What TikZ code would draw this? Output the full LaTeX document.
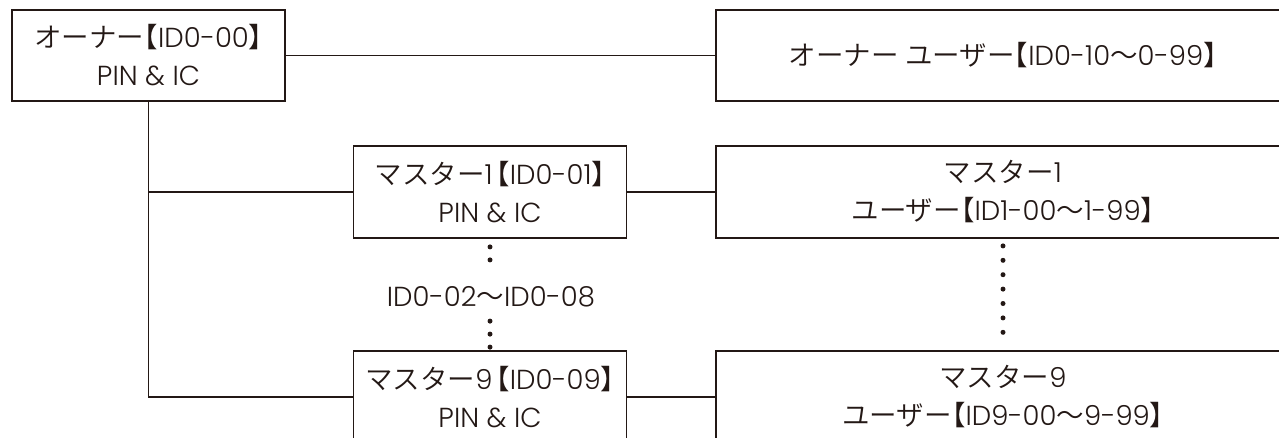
\documentclass[tikz,border=0pt]{standalone}
\usepackage{fontspec}
\setmainfont{Noto Sans CJK JP}[UprightFont=* DemiLight]
\newfontfamily\brk{Noto Sans CJK JP}[UprightFont=* DemiLight, RawFeature=+halt]
\newfontfamily\latf{Poppins}[UprightFont=* Light]
\newcommand\lt[1]{{\latf #1}}
\newcommand\lbk{{\brk 【}}
\newcommand\rbk{{\brk 】}}
\definecolor{ink}{HTML}{231815}
\begin{document}
\begin{tikzpicture}[x=1pt,y=-1pt,
 box/.style={draw=ink, line width=1.8pt, rectangle, inner sep=0pt, align=center, text=ink, font=\fontsize{27.5}{38}\selectfont},
 leftbox/.style={box, minimum width=273pt, minimum height=92pt},
 rightbox/.style={box, minimum width=574pt, minimum height=92pt},
 conn/.style={draw=ink, line width=1.8pt},
 dotline/.style={draw=ink, line width=5pt, line cap=round, dash pattern=on 0pt off 13pt},
 lbl/.style={inner sep=0pt, text=ink, font=\fontsize{27.5}{38}\selectfont}]
\useasboundingbox (0,0) rectangle (1279,437);
\clip (0,0) rectangle (1279,437);
\node[leftbox, minimum height=91pt] (owner) at (148.5,55.5) {オーナー\lbk\lt{ID0-00}\rbk\\\lt{PIN \& IC}};
\node[rightbox, minimum height=91pt] (ou) at (1003,55.5) {オーナー ユーザー\lbk\lt{ID0-10}〜\lt{0-99}\rbk};
\node[leftbox] (m1) at (490,192) {マスター\lt{1}\kern3.5pt\lbk\lt{ID0-01}\rbk\\\lt{PIN \& IC}};
\node[rightbox] (m1u) at (1003,192) {マスター\lt{1}\\ユーザー\lbk\lt{ID1-00}〜\lt{1-99}\rbk};
\node[leftbox] (m9) at (490,397) {マスター\lt{9}\kern3.5pt\lbk\lt{ID0-09}\rbk\\\lt{PIN \& IC}};
\node[rightbox] (m9u) at (1003,397) {マスター\lt{9}\\ユーザー\lbk\lt{ID9-00}〜\lt{9-99}\rbk};
\node[lbl] (rng) at (491,297) {\lt{ID0-02}〜\lt{ID0-08}};
\draw[conn] (owner.east) -- (ou.west);
\draw[conn] (owner.south) -- (owner.south |- m9.west) -- (m9.west);
\draw[conn] (owner.south |- m1.west) -- (m1.west);
\draw[conn] (m1.east) -- (m1u.west);
\draw[conn] (m9.east) -- (m9u.west);
\draw[dotline] ([yshift=-8pt]m1.south) -- ++(0,26);
\draw[dotline] ([yshift=3pt]m9.north) -- ++(0,-26);
\draw[dotline, dash pattern=on 0pt off 14.4pt] ([yshift=-7pt]m1u.south) -- ([yshift=5pt]m9u.north);
\end{tikzpicture}
\end{document}
